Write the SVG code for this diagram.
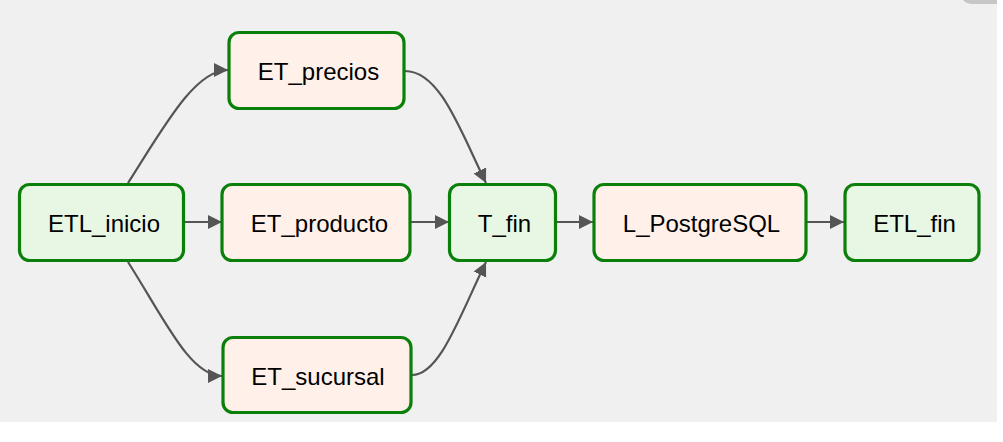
<svg xmlns="http://www.w3.org/2000/svg" width="1003" height="442" viewBox="0 0 1003 442">
<style>
.node rect{stroke:#0a800a;stroke-width:3.2}
.g rect{fill:#e8f7e4}
.p rect{fill:#fff0ea}
.node text{font-family:"Liberation Sans",Arial,sans-serif;font-size:24px;fill:#000;text-anchor:middle}
.edge{fill:none;stroke:#555;stroke-width:2.2;marker-end:url(#arr)}
</style>
<defs>
<marker id="arr" markerUnits="userSpaceOnUse" markerWidth="15" markerHeight="15" refX="14" refY="7" orient="auto">
<path d="M0,0 L14,7 L0,14 z" fill="#555"/>
</marker>
</defs>
<rect x="0" y="0" width="1003" height="442" fill="#ffffff"/>
<rect x="0" y="0" width="997" height="422" fill="#f0f0f0"/>
<path d="M963,0 L997,0 L997,4 L973,4 Q966,4 963,0 Z" fill="#c6c6c6"/>
<g id="edges">
<path class="edge" d="M128,183 C165,125 195,70 228,70"/>
<path class="edge" d="M184,222 L222,222"/>
<path class="edge" d="M128,262 C165,320 190,376 222,376"/>
<path class="edge" d="M405,71 C440,71 460,130 486,183"/>
<path class="edge" d="M411,222 L449,222"/>
<path class="edge" d="M412,375 C440,375 460,315 486,262"/>
<path class="edge" d="M556,222 L593,222"/>
<path class="edge" d="M807,222 L844,222"/>
</g>
<g id="ETL_inicio" class="node g"><rect x="19.5" y="184.5" width="164" height="76" rx="10"/><text x="104" y="232">ETL_inicio</text></g>
<g id="ET_precios" class="node p"><rect x="229" y="32.5" width="175" height="76" rx="10"/><text x="318.5" y="80">ET_precios</text></g>
<g id="ET_producto" class="node p"><rect x="222" y="184.5" width="188" height="76" rx="10"/><text x="319.5" y="232">ET_producto</text></g>
<g id="ET_sucursal" class="node p"><rect x="223" y="337.5" width="188" height="75" rx="10"/><text x="318" y="385">ET_sucursal</text></g>
<g id="T_fin" class="node g"><rect x="449.5" y="184.5" width="106" height="76" rx="10"/><text x="504.5" y="232">T_fin</text></g>
<g id="L_PostgreSQL" class="node p"><rect x="594" y="184.5" width="212" height="76" rx="10"/><text x="701.5" y="232">L_PostgreSQL</text></g>
<g id="ETL_fin" class="node g"><rect x="845" y="184.5" width="134" height="76" rx="10"/><text x="914.5" y="232">ETL_fin</text></g>
</svg>
